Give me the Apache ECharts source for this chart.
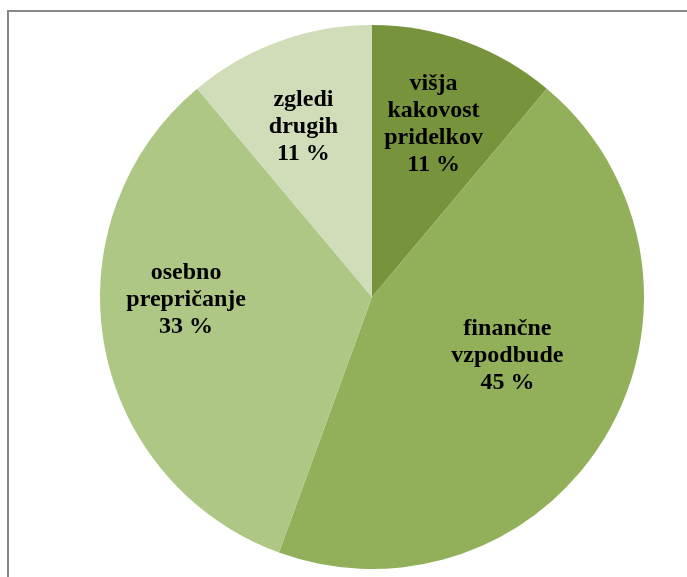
<!DOCTYPE html>
<html>
<head>
<meta charset="utf-8">
<script src="https://cdn.jsdelivr.net/npm/echarts@6/dist/echarts.min.js"></script>
<style>
html,body{margin:0;padding:0;background:#fff;}
#c{width:687px;height:577px;}
</style>
</head>
<body>
<div id="c"></div>
<script>
const categories = ['višja\nkakovost\npridelkov', 'finančne\nvzpodbude', 'osebno\nprepričanje', 'zgledi\ndrugih'];
const shares = [11.1, 44.4, 33.3, 11.1];
const percentLabels = ['11 %', '45 %', '33 %', '11 %'];
const colors = ['#77933C', '#92B05A', '#AEC785', '#D0DDB8'];
const labelOffsets = [[14, -42], [15, -11], [-49, -21], [-21, -40]];

const chart = echarts.init(document.getElementById('c'), null, {renderer: 'canvas'});
chart.setOption({
  animation: false,
  backgroundColor: '#ffffff',
  graphic: [{
    type: 'rect',
    shape: {x: 8, y: 11, width: 720, height: 620},
    style: {fill: 'none', stroke: '#888888', lineWidth: 2},
    silent: true
  }],
  series: [{
    type: 'pie',
    center: [372, 297],
    radius: [0, 272],
    startAngle: 90,
    clockwise: true,
    avoidLabelOverlap: false,
    itemStyle: {borderWidth: 0},
    label: {
      show: true,
      position: 'inside',
      color: '#000',
      fontFamily: 'Liberation Serif',
      fontWeight: 'bold',
      fontSize: 24,
      lineHeight: 27,
      align: 'center'
    },
    labelLine: {show: false},
    emphasis: {disabled: true},
    data: categories.map((n, i) => ({
      name: n,
      value: shares[i],
      itemStyle: {color: colors[i]},
      label: {formatter: n + '\n' + percentLabels[i], offset: labelOffsets[i]}
    }))
  }]
});
</script>
</body>
</html>
